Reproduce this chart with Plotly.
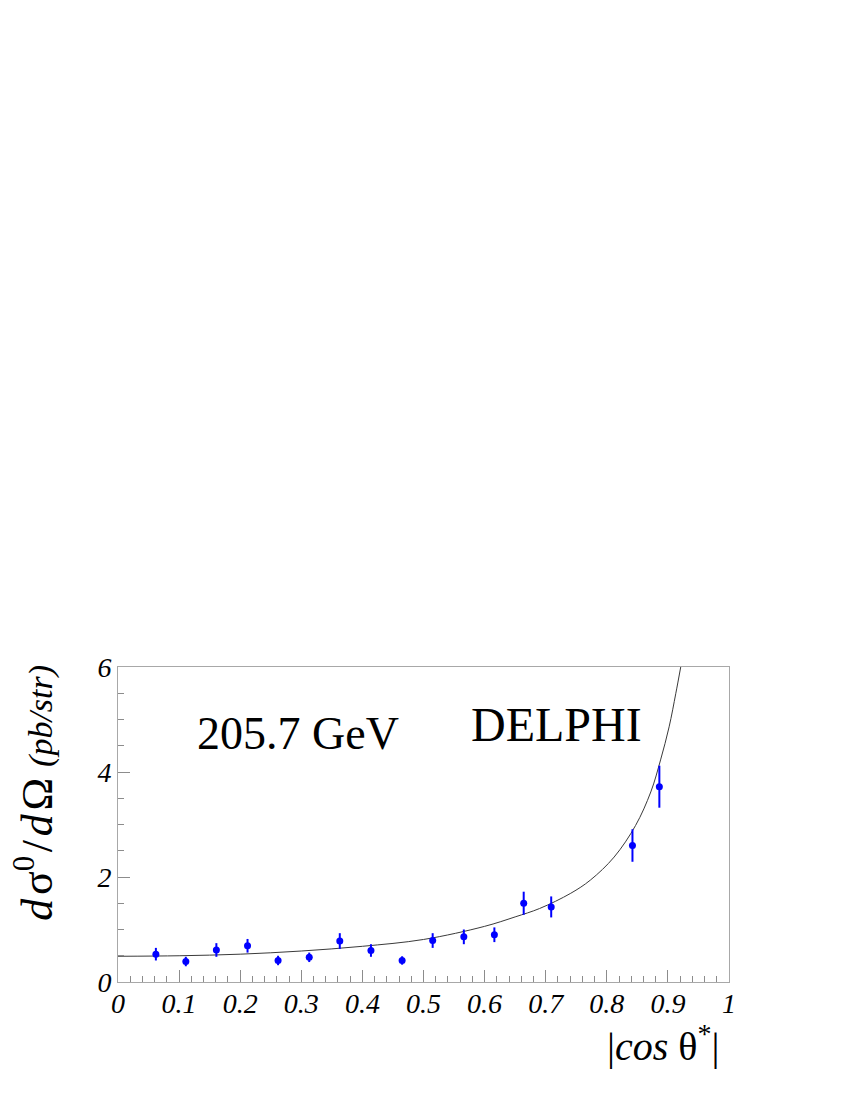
import plotly.graph_objects as go

# measured points, |cos theta*| vs dsigma0/dOmega (pb/str)
cos_theta = [0.062, 0.111, 0.161, 0.212, 0.262, 0.313, 0.363, 0.414,
             0.465, 0.515, 0.566, 0.616, 0.664, 0.709, 0.842, 0.886]
xsec = [0.53, 0.39, 0.61, 0.69, 0.41, 0.47, 0.78, 0.60,
        0.41, 0.79, 0.86, 0.90, 1.50, 1.43, 2.60, 3.72]
xsec_err = [0.12, 0.09, 0.13, 0.13, 0.09, 0.09, 0.15, 0.12,
            0.08, 0.14, 0.14, 0.14, 0.22, 0.20, 0.31, 0.40]

# QED prediction
curve_x = [0.0, 0.1, 0.2, 0.3, 0.4, 0.5, 0.6, 0.65, 0.69, 0.741,
           0.773, 0.812, 0.847, 0.872, 0.888, 0.902, 0.913, 0.921]
curve_y = [0.49, 0.50, 0.53, 0.59, 0.68, 0.81, 1.06, 1.24, 1.40, 1.69,
           1.94, 2.38, 2.98, 3.62, 4.23, 4.86, 5.50, 6.00]

serif = "Liberation Serif"
frame_col = "#a8a8a8"
tick_col = "#8c8c8c"

fig = go.Figure()

fig.add_trace(
    go.Scatter(
        x=curve_x,
        y=curve_y,
        mode="lines",
        line=dict(color="#3a3a3a", width=1, shape="spline"),
        showlegend=False,
        hoverinfo="skip",
    )
)

fig.add_trace(
    go.Scatter(
        x=cos_theta,
        y=xsec,
        mode="markers",
        marker=dict(color="#0000ff", size=7),
        error_y=dict(type="data", array=xsec_err, color="#0000ff",
                     thickness=2, width=0),
        showlegend=False,
    )
)

axis_common = dict(
    showgrid=False,
    zeroline=False,
    showline=True,
    linecolor=frame_col,
    linewidth=1,
    mirror=True,
    ticks="inside",
    ticklen=12,
    tickcolor=tick_col,
    tickfont=dict(family=serif, size=28, color="black", style="italic"),
)

fig.update_xaxes(
    range=[0, 1],
    tickvals=[0, 0.1, 0.2, 0.3, 0.4, 0.5, 0.6, 0.7, 0.8, 0.9, 1],
    ticktext=["0", "0.1", "0.2", "0.3", "0.4", "0.5", "0.6", "0.7", "0.8", "0.9", "1"],
    minor=dict(ticks="inside", ticklen=6, tickcolor=tick_col, dtick=0.02, tick0=0),
    ticklabelstandoff=-4,
    **axis_common,
)
fig.update_yaxes(
    range=[0, 6],
    tickvals=[0, 2, 4, 6],
    ticktext=["0", "2", "4", "6"],
    minor=dict(ticks="inside", ticklen=6, tickcolor=tick_col, dtick=0.5, tick0=0),
    **axis_common,
)

hs = "\u200a"  # hair space, ROOT-like wide glyph spacing
ytitle = (f"<i>d</i>{hs}σ<sup>0</sup>{hs}/{hs}<i>d</i>{hs}Ω "
          "<span style='font-size:34px'><i>(pb/str)</i></span>")

# page body adds an 8px offset, so margins are trimmed by that much
fig.update_layout(
    width=842,
    height=1092,
    margin=dict(l=110, r=121, t=659, b=118),
    plot_bgcolor="white",
    paper_bgcolor="white",
    annotations=[
        dict(x=0.295, y=4.74, xref="x", yref="y", text="205.7 GeV",
             showarrow=False, font=dict(family=serif, size=46, color="black")),
        dict(x=0.717, y=4.9, xref="x", yref="y", text="DELPHI",
             showarrow=False, font=dict(family=serif, size=48, color="black")),
        dict(x=0.989, y=-0.194, xref="paper", yref="paper",
             xanchor="right", yanchor="middle",
             text="|<i>cos</i> θ<sup>*</sup>|", showarrow=False,
             font=dict(family=serif, size=40, color="black")),
        dict(x=-0.138, y=0.6, xref="paper", yref="paper", textangle=-90,
             xanchor="center", yanchor="middle",
             text=ytitle, showarrow=False,
             font=dict(family=serif, size=44, color="black")),
    ],
)

fig.write_html("out.html")
